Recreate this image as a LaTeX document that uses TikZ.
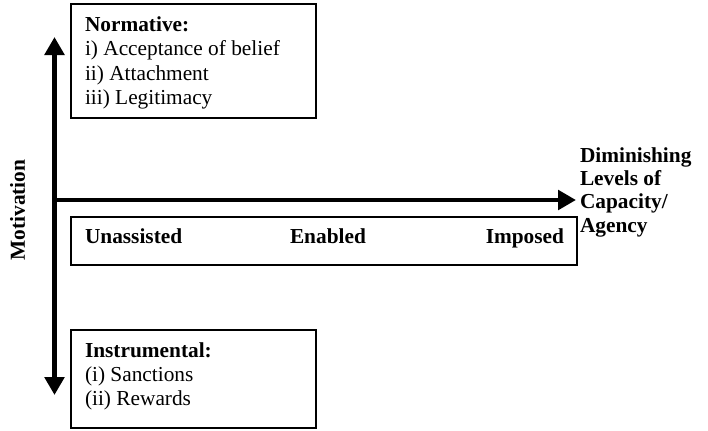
\documentclass[tikz,border=0pt]{standalone}
\usepackage{fontspec}
\setmainfont{Liberation Serif}
\usetikzlibrary{arrows.meta}
\begin{document}
\begin{tikzpicture}[x=0.75pt,y=-0.75pt,
  every node/.style={inner sep=0pt,outer sep=0pt,font=\fontsize{16}{18.5}\selectfont},
  boxframe/.style={draw=black,line width=1pt,rectangle,anchor=north west},
  txt/.style={anchor=base west},
  btxt/.style={anchor=base west,font=\fontsize{16}{18.5}\selectfont\bfseries},
  axis/.style={line width=3.4pt,-{Triangle[length=13.5pt,width=14.5pt]}},
  dblaxis/.style={line width=3.4pt,{Triangle[length=13.5pt,width=14.5pt]}-{Triangle[length=13.5pt,width=14.5pt]}}]
\useasboundingbox (0,0) rectangle (708,430);

% boxes
\node[boxframe,minimum width=245*0.75pt,minimum height=114*0.75pt] (normbox) at (71,4) {};
\node[boxframe,minimum width=506*0.75pt,minimum height=48*0.75pt] (scalebox) at (71,217) {};
\node[boxframe,minimum width=245*0.75pt,minimum height=98*0.75pt] (instbox) at (71,330) {};

% axes
\coordinate (vtop) at (54.5,37);
\coordinate (vbot) at (54.5,395);
\coordinate (origin) at (52.5,200);
\coordinate (htip) at (576,200);
\draw[dblaxis] (vtop) -- (vbot);
\draw[axis] (origin) -- (htip);

% normative text
\node[btxt] (n0) at (85,31) {Normative:};
\node[txt] (n1) at (85,55.5) {i) Acceptance of belief};
\node[txt] (n2) at (85,80) {ii) Attachment};
\node[txt] (n3) at (85,104) {iii) Legitimacy};

% scale text
\node[btxt] (s1) at (85,243) {Unassisted};
\node[btxt] (s2) at (290,243) {Enabled};
\node[btxt,anchor=base east] (s3) at (564,243) {Imposed};

% instrumental text
\node[btxt] (i0) at (85,357) {Instrumental:};
\node[txt] (i1) at (85,381.5) {(i) Sanctions};
\node[txt] (i2) at (85,405.5) {(ii) Rewards};

% axis labels
\node[btxt] (d1) at (580,162) {Diminishing};
\node[btxt] (d2) at (580,185.5) {Levels of};
\node[btxt] (d3) at (580,208.5) {Capacity/};
\node[btxt] (d4) at (580,232) {Agency};
\node[btxt,anchor=base,rotate=90] (mot) at (25,210) {Motivation};
\end{tikzpicture}
\end{document}
